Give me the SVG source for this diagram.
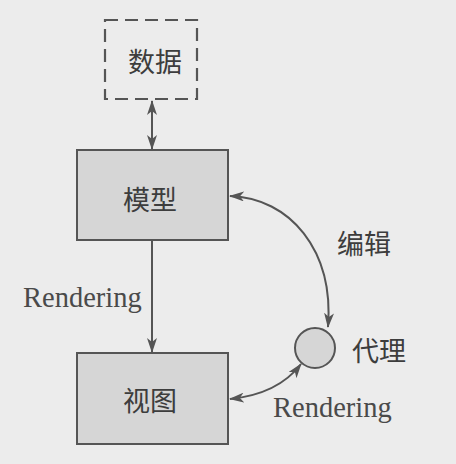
<svg xmlns="http://www.w3.org/2000/svg" width="456" height="464" viewBox="0 0 456 464">
<style>
.bg{fill:#ececec}
.box{fill:#d6d6d6;stroke:#555;stroke-width:2}
.dash{fill:none;stroke:#555;stroke-width:2.2;stroke-dasharray:13 7}
.cjk{font-family:"Noto Sans CJK SC","Liberation Serif",sans-serif;font-size:27px;fill:#3d3d3d;text-anchor:middle;dominant-baseline:central}
.lat{font-family:"Liberation Serif",serif;font-size:28.5px;fill:#4a4a4a}
.con{fill:none;stroke:#555;stroke-width:2}
</style>
<defs>
<marker id="ah" viewBox="0 0 15 10" refX="14" refY="5" markerWidth="15" markerHeight="10" markerUnits="userSpaceOnUse" orient="auto-start-reverse">
<path d="M0,0 L15,5 L0,10 L4,5 z" fill="#555"/>
</marker>
</defs>
<rect class="bg" x="0" y="0" width="456" height="464"/>
<g id="data">
<rect class="dash" x="105" y="20" width="92" height="79"/>
<text class="cjk" x="155" y="60">数据</text>
</g>
<g id="model">
<rect class="box" x="77" y="150" width="151" height="90"/>
<text class="cjk" x="150" y="198">模型</text>
</g>
<g id="view">
<rect class="box" x="77" y="353" width="151" height="91"/>
<text class="cjk" x="150" y="399">视图</text>
</g>
<g id="delegate">
<circle cx="315" cy="348" r="20" fill="#d6d6d6" stroke="#555" stroke-width="2"/>
<text class="cjk" x="379" y="349">代理</text>
</g>
<g id="connectors">
<line class="con" x1="152" y1="101" x2="152" y2="149" marker-start="url(#ah)" marker-end="url(#ah)"/>
<line class="con" x1="152" y1="240" x2="152" y2="352" marker-end="url(#ah)"/>
<path class="con" d="M230,196 C290,198 334,250 328,327" marker-start="url(#ah)" marker-end="url(#ah)"/>
<path class="con" d="M230,399 C260,396 285,385 301,364" marker-start="url(#ah)" marker-end="url(#ah)"/>
<text class="cjk" x="364" y="242">编辑</text>
<text class="lat" x="23" y="307">Rendering</text>
<text class="lat" x="273" y="417">Rendering</text>
</g>
</svg>
